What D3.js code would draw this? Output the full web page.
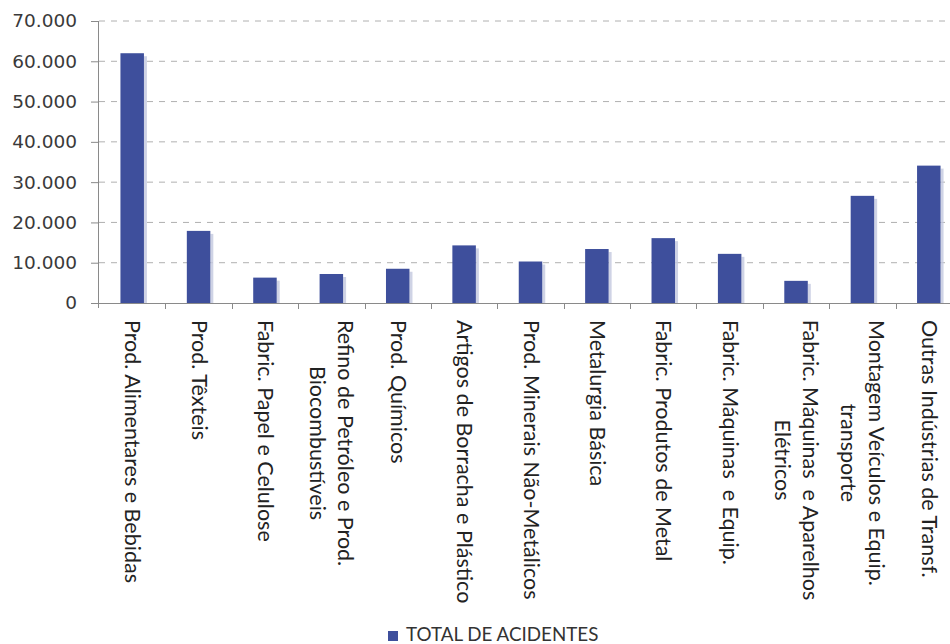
<!DOCTYPE html>
<html>
<head>
<meta charset="utf-8">
<script src="https://cdn.jsdelivr.net/npm/d3@7"></script>
<style>
  html, body { margin: 0; padding: 0; background: #fff; }
  svg { display: block; }
  .cat-label { white-space: pre; }
</style>
</head>
<body>
<svg id="chart" width="950" height="644"></svg>
<script>
// Acidentes de trabalho por setor da indústria de transformação
const categories = [
  ["Prod. Alimentares e Bebidas"],
  ["Prod. Têxteis"],
  ["Fabric. Papel e Celulose"],
  ["Refino de Petróleo e Prod.", "Biocombustíveis"],
  ["Prod. Químicos"],
  ["Artigos de Borracha e Plástico"],
  ["Prod. Minerais Não-Metálicos"],
  ["Metalurgia Básica"],
  ["Fabric. Produtos de Metal"],
  ["Fabric. Máquinas  e Equip."],
  ["Fabric. Máquinas  e Aparelhos", "Elétricos"],
  ["Montagem Veículos e Equip.", "transporte"],
  ["Outras Indústrias de Transf."]
];
const totalAcidentes = [62000, 17900, 6300, 7200, 8500, 14300, 10300, 13400, 16100, 12200, 5500, 26600, 34100];
const yTicks = [0, 10000, 20000, 30000, 40000, 50000, 60000, 70000];
const seriesName = "TOTAL DE ACIDENTES";

const svg = d3.select("#chart");
const barColor = "#3e4f9c";
const plot = { left: 99, right: 962, top: 21, bottom: 303 };

const keys = categories.map(c => c.join(" "));
const x = d3.scaleBand().domain(keys).range([plot.left, plot.right])
  .paddingInner(0.646).paddingOuter(0.323);
const y = d3.scaleLinear().domain([0, 70000]).range([plot.bottom, plot.top]);

const fmt = d => d3.format(",")(d).replace(/,/g, ".");

// dashed gridlines
svg.append("g").selectAll("line").data(yTicks.filter(d => d > 0)).join("line")
  .attr("x1", plot.left).attr("x2", 950)
  .attr("y1", d => y(d)).attr("y2", d => y(d))
  .attr("stroke", "#b0b0b0").attr("stroke-width", 1)
  .attr("stroke-dasharray", "6,6");

// y axis
const yAxis = svg.append("g").attr("transform", `translate(${plot.left},0)`)
  .call(d3.axisLeft(y).tickValues(yTicks).tickFormat(fmt).tickSize(8).tickPadding(14));
yAxis.select(".domain").attr("stroke", "#8a8a8a").attr("d", `M-0.5,${plot.top}V${plot.bottom + 5}`);
yAxis.selectAll(".tick line").attr("stroke", "#8a8a8a");
yAxis.selectAll(".tick text")
  .attr("font-family", "DejaVu Sans").attr("font-size", 18.5).attr("fill", "#3a3a3a");

// bars with a soft shadow on the right
const data = keys.map((k, i) => ({ key: k, lines: categories[i], value: totalAcidentes[i] }));
svg.append("g").selectAll("rect").data(data).join("rect")
  .attr("x", d => x(d.key) + x.bandwidth())
  .attr("y", d => y(d.value) + 3)
  .attr("width", 3)
  .attr("height", d => y(0) - y(d.value) - 3)
  .attr("fill", "#c3c8df").attr("opacity", 0.8);
svg.append("g").selectAll("rect").data(data).join("rect")
  .attr("x", d => x(d.key))
  .attr("y", d => y(d.value))
  .attr("width", x.bandwidth())
  .attr("height", d => y(0) - y(d.value))
  .attr("fill", barColor);

// x axis line and boundary ticks
const step = x.step();
const bounds = d3.range(keys.length + 1).map(i => plot.left + i * step);
svg.append("line").attr("x1", plot.left).attr("x2", 950)
  .attr("y1", plot.bottom + 0.5).attr("y2", plot.bottom + 0.5)
  .attr("stroke", "#8a8a8a");
svg.append("g").selectAll("line").data(bounds.slice(1)).join("line")
  .attr("x1", d => Math.round(d) + 0.5).attr("x2", d => Math.round(d) + 0.5)
  .attr("y1", plot.bottom).attr("y2", plot.bottom + 6)
  .attr("stroke", "#8a8a8a");

// rotated category labels, lines centred on each other
const lineGap = 28;
const labels = svg.append("g").selectAll("text").data(data).join("text")
  .attr("class", "cat-label")
  .attr("font-family", "Lato").attr("font-size", 21.5).attr("fill", "#222");
labels.each(function (d) {
  const t = d3.select(this);
  const cx = x(d.key) + x.bandwidth() / 2;
  const n = d.lines.length;
  const spans = d.lines.map(l => t.append("tspan").text(l));
  const maxLen = d3.max(spans, s => s.node().getComputedTextLength());
  const top = plot.bottom + 17;
  spans.forEach((s, i) => {
    s.attr("x", 0).attr("y", 0)
      .attr("text-anchor", "middle")
      .attr("dy", ((i - (n - 1) / 2) * lineGap + 7) + "px");
  });
  t.attr("transform", `translate(${cx},${top + maxLen / 2}) rotate(90)`);
});

// legend
const legend = svg.append("g").attr("transform", "translate(388,631)");
legend.append("rect").attr("width", 10).attr("height", 10).attr("fill", barColor);
legend.append("text").attr("x", 18).attr("y", 10)
  .attr("font-family", "Lato").attr("font-size", 18.8).attr("fill", "#333")
  .text(seriesName);
</script>
</body>
</html>
